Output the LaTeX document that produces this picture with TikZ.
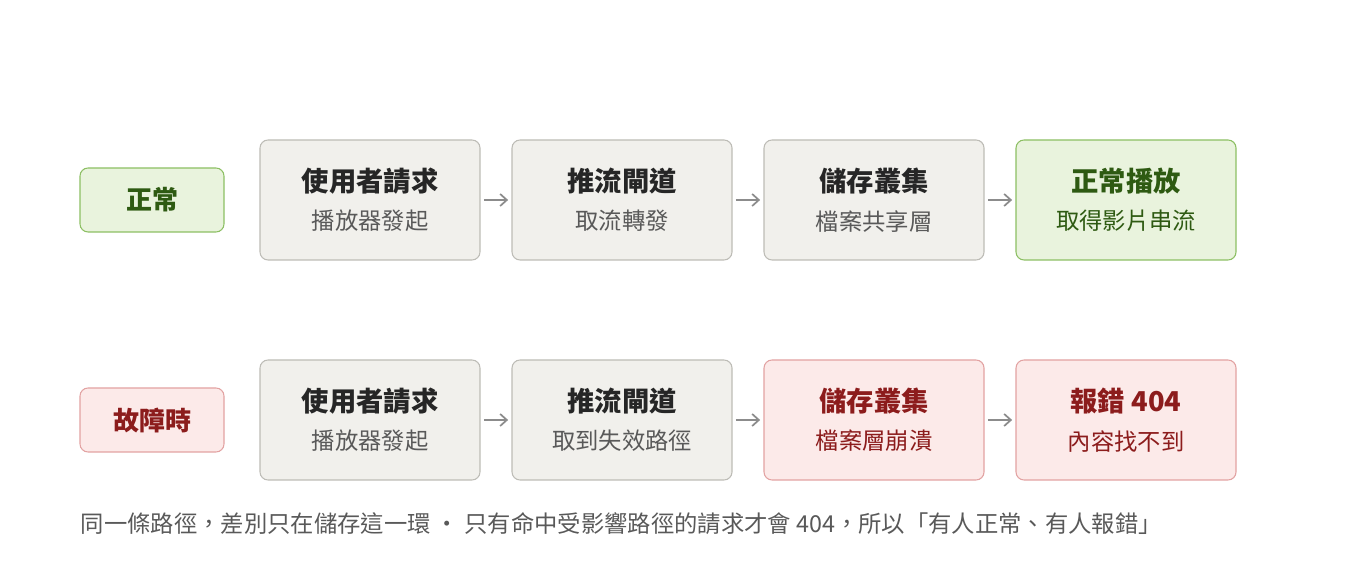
\documentclass[tikz,border=0pt]{standalone}
\usepackage{fontspec}
\setmainfont{Noto Sans CJK TC}
\usetikzlibrary{positioning,arrows.meta}
\definecolor{boxg}{HTML}{F1F0EC}
\definecolor{lineg}{HTML}{BDBCB6}
\definecolor{okfill}{HTML}{E9F3DD}
\definecolor{okline}{HTML}{8CBF63}
\definecolor{oktext}{HTML}{2E5A12}
\definecolor{badfill}{HTML}{FCEAE9}
\definecolor{badline}{HTML}{E2A2A2}
\definecolor{badtext}{HTML}{8C1C1C}
\tikzset{
  stage/.style={draw=lineg, fill=boxg, rounded corners=6pt, line width=0.8pt,
    minimum width=165pt, minimum height=90pt, align=center, text=black!85},
  okstage/.style={stage, draw=okline, fill=okfill, text=oktext},
  badstage/.style={stage, draw=badline, fill=badfill, text=badtext},
  tag/.style={draw=lineg, rounded corners=6pt, line width=0.8pt,
    minimum width=108pt, minimum height=48pt, font=\bfseries\fontsize{19.5}{22}\selectfont},
  flow/.style={-{Straight Barb[length=5pt,width=9pt]}, draw=black!45, line width=1.3pt,
    shorten >=2.5pt, shorten <=2.5pt}
}
\newcommand{\stagetext}[3]{{\bfseries\fontsize{20.5}{24}\selectfont #1}\\[11pt]{\fontsize{17.5}{20}\selectfont\color{#3}#2}}
\begin{document}
\begin{tikzpicture}[x=0.75pt, y=-0.75pt]
\useasboundingbox (0,0) rectangle (1360,580);

% normal path
\node[tag, fill=okfill, draw=okline, text=oktext] (okTag) at (152,200) {正常};
\node[stage] (okUser) at (370,200) {\stagetext{使用者請求}{播放器發起}{black!65}};
\node[stage] (okGate) at (622,200) {\stagetext{推流閘道}{取流轉發}{black!65}};
\node[stage] (okStore) at (874,200) {\stagetext{儲存叢集}{檔案共享層}{black!65}};
\node[okstage] (okEnd) at (1126,200) {\stagetext{正常播放}{取得影片串流}{oktext}};

% failing path
\node[tag, fill=badfill, draw=badline, text=badtext] (badTag) at (152,420) {故障時};
\node[stage] (badUser) at (370,420) {\stagetext{使用者請求}{播放器發起}{black!65}};
\node[stage] (badGate) at (622,420) {\stagetext{推流閘道}{取到失效路徑}{black!65}};
\node[badstage] (badStore) at (874,420) {\stagetext{儲存叢集}{檔案層崩潰}{badtext}};
\node[badstage] (badEnd) at (1126,420) {\stagetext{報錯 404}{內容找不到}{badtext}};

\draw[flow] (okUser) -- (okGate);
\draw[flow] (okGate) -- (okStore);
\draw[flow] (okStore) -- (okEnd);
\draw[flow] (badUser) -- (badGate);
\draw[flow] (badGate) -- (badStore);
\draw[flow] (badStore) -- (badEnd);

\node[anchor=west, text=black!65, font=\fontsize{17.5}{20}\selectfont] (note) at (76,524)
  {同一條路徑，差別只在儲存這一環 · 只有命中受影響路徑的請求才會 404，所以「有人正常、有人報錯」};
\end{tikzpicture}
\end{document}
